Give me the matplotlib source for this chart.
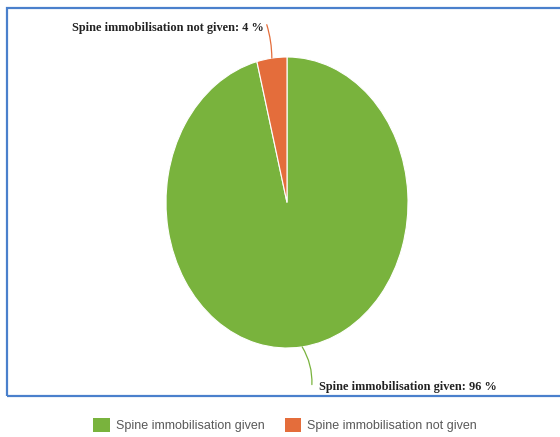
import matplotlib.pyplot as plt
import numpy as np
from matplotlib.patches import Patch, Rectangle

labels = ["Spine immobilisation given", "Spine immobilisation not given"]
shares = [96, 4]
colors = ["#79b33d", "#e46d3b"]

W, H = 560, 437
fig = plt.figure(figsize=(W / 100, H / 100), dpi=100)

# blue chart-area frame (right side runs off the page)
fig.patches.append(Rectangle((7 / W, 41 / H), 600 / W, 388 / H,
                             transform=fig.transFigure, fill=False,
                             edgecolor="#4a80cc", linewidth=1.6, zorder=0))

# pie axes: stretched vertically, so the pie reads as an ellipse
ax = fig.add_axes([166 / W, 89 / H, 242 / W, 291 / H])
wedges, _ = ax.pie(shares, colors=colors, startangle=90, counterclock=False,
                   wedgeprops=dict(edgecolor="white", linewidth=0.8))
ax.set_aspect("auto")
ax.set_xlim(-1, 1)
ax.set_ylim(-1, 1)

label_font = dict(family="Liberation Serif", weight="bold", size=8.8, color="#222222")

# label positions in figure pixels, leader lines start at the wedge midpoints
text_pos = [(319, 50), (264, 409)]
text_ha = ["left", "right"]
rel = [(-0.04, 0.7), (1.01, 1.0)]
rads = [0.15, -0.08]
start = 90.0
for lab, val, col, pos, ha, rp, rad in zip(labels, shares, colors, text_pos, text_ha, rel, rads):
    mid = start - 360 * val / 100 / 2
    start -= 360 * val / 100
    th = np.deg2rad(mid)
    ax.annotate(f"{lab}: {val} %", xy=(np.cos(th), np.sin(th)), xycoords="data",
                xytext=pos, textcoords="figure pixels", ha=ha, va="center",
                arrowprops=dict(arrowstyle="-", color=col, lw=0.9, relpos=rp,
                                shrinkA=0, shrinkB=0,
                                connectionstyle=f"arc3,rad={rad}"),
                **label_font)

handles = [Patch(facecolor=c, edgecolor="none") for c in colors]
fig.legend(handles, labels, loc="center", bbox_to_anchor=(285 / W, 12 / H),
           ncol=2, frameon=False, handlelength=1.3, handleheight=1.3,
           columnspacing=1.6, handletextpad=0.5,
           prop=dict(family="Liberation Sans", size=9), labelcolor="#595959")

fig.savefig("out.png", dpi=100)
